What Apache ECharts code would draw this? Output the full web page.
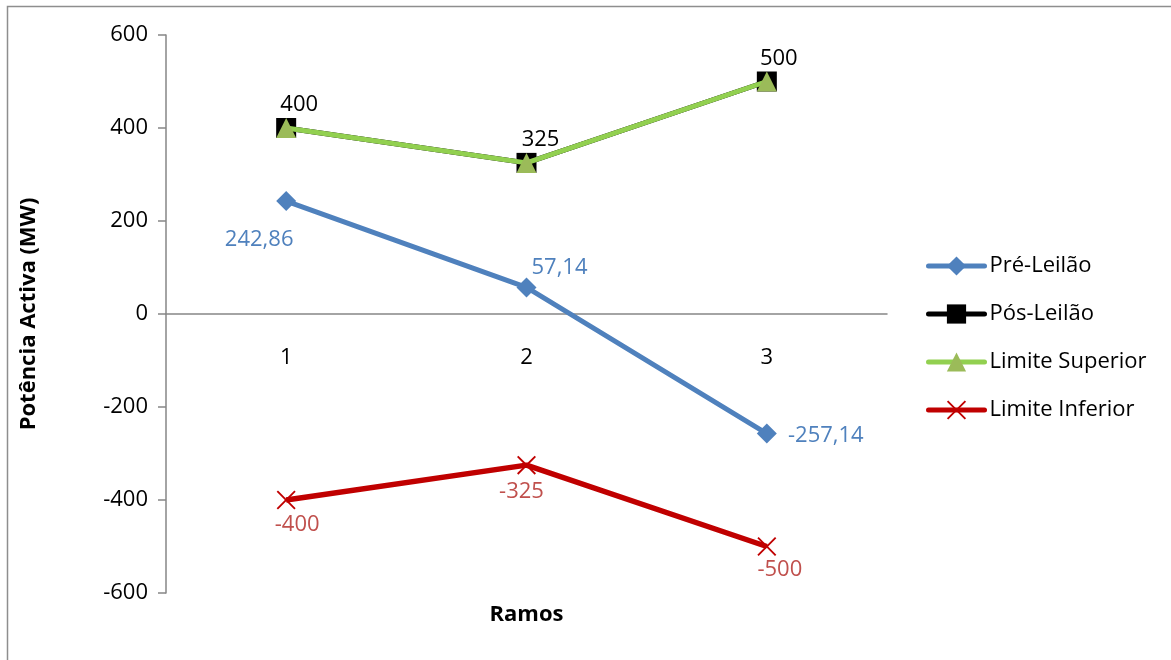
<!DOCTYPE html>
<html>
<head>
<meta charset="utf-8">
<script src="https://cdn.jsdelivr.net/npm/echarts@6/dist/echarts.min.js"></script>
<style>
  html, body { margin: 0; padding: 0; background: #fff; }
  #chart { width: 1171px; height: 660px; }
</style>
</head>
<body>
<div id="chart"></div>
<script>
// Branch flows (MW) before/after the auction and the line limits
const ramos = ['1', '2', '3'];
const preLeilao = [242.86, 57.14, -257.14];
const posLeilao = [400, 325, 500];
const limiteSuperior = [400, 325, 500];
const limiteInferior = [-400, -325, -500];
const yTicks = { min: -600, max: 600, interval: 200 };

const FONT = '"Open Sans", "DejaVu Sans", sans-serif';
const FS = 22;

// Filled "x" outline used as the lower-limit marker
const crossPath = 'path://M0,1.4L1.4,0L10,8.6L18.6,0L20,1.4L11.4,10L20,18.6L18.6,20L10,11.4L1.4,20L0,18.6L8.6,10Z';

function fmt(v) {
  return String(v).replace('.', ',');
}

function labelled(values, offsets, color) {
  return values.map((v, i) => ({
    value: v,
    label: {
      show: true,
      position: 'inside',
      offset: offsets[i],
      color: color,
      fontFamily: FONT,
      fontSize: FS,
      align: 'center',
      verticalAlign: 'middle',
      formatter: () => fmt(v)
    }
  }));
}

const chart = echarts.init(document.getElementById('chart'), null, { renderer: 'canvas' });

chart.setOption({
  animation: false,
  backgroundColor: '#ffffff',
  textStyle: { fontFamily: FONT },
  graphic: [{
    type: 'rect',
    silent: true,
    shape: { x: 7.5, y: 6.5, width: 1200, height: 700 },
    style: { fill: 'none', stroke: '#8e8e8e', lineWidth: 1.5 }
  }],
  grid: { left: 166, right: 284, top: 35, bottom: 67, containLabel: false, outerBoundsMode: 'none' },
  legend: {
    orient: 'vertical',
    left: 921,
    top: 249,
    itemWidth: 56,
    itemHeight: 24,
    itemGap: 24,
    lineStyle: { width: 5, cap: 'round' },
    textStyle: { fontFamily: FONT, fontSize: FS, color: '#000', lineHeight: 24 },
    data: ['Pré-Leilão', 'Pós-Leilão', 'Limite Superior', 'Limite Inferior']
  },
  xAxis: {
    type: 'category',
    data: ramos,
    boundaryGap: true,
    axisLine: { onZero: true, lineStyle: { color: '#868686', width: 1.5 } },
    axisTick: { show: false },
    // category labels sit just under the zero line
    axisLabel: { color: '#000', fontFamily: FONT, fontSize: FS, margin: -246 },
    splitLine: { show: false },
    name: 'Ramos',
    nameLocation: 'middle',
    nameGap: 11,
    nameTextStyle: { color: '#000', fontFamily: FONT, fontSize: FS, fontWeight: 'bold' }
  },
  yAxis: {
    type: 'value',
    min: yTicks.min,
    max: yTicks.max,
    interval: yTicks.interval,
    axisLine: { show: true, onZero: false, lineStyle: { color: '#868686', width: 1.5 } },
    axisTick: { show: true, length: 8, lineStyle: { color: '#868686', width: 1.5 } },
    axisLabel: { color: '#000', fontFamily: FONT, fontSize: FS, margin: 18 },
    splitLine: { show: false },
    name: 'Potência Activa (MW)',
    nameLocation: 'middle',
    nameGap: 126,
    nameTextStyle: { color: '#000', fontFamily: FONT, fontSize: FS, fontWeight: 'bold' }
  },
  series: [
    {
      name: 'Pré-Leilão',
      type: 'line',
      data: labelled(preLeilao, [[-27, 39], [33, -20], [59, 2]], '#4F81BD'),
      symbol: 'diamond',
      symbolSize: 20,
      lineStyle: { color: '#4F81BD', width: 5 },
      itemStyle: { color: '#4F81BD' },
      z: 2
    },
    {
      name: 'Pós-Leilão',
      type: 'line',
      data: labelled(posLeilao, [[13, -23], [14, -23], [12, -23]], '#000000'),
      symbol: 'rect',
      symbolSize: 20,
      lineStyle: { color: '#000000', width: 5 },
      itemStyle: { color: '#000000' },
      z: 3
    },
    {
      name: 'Limite Superior',
      type: 'line',
      data: limiteSuperior,
      symbol: 'triangle',
      symbolSize: 20,
      lineStyle: { color: '#92D050', width: 5 },
      itemStyle: { color: '#9BBB59' },
      z: 4
    },
    {
      name: 'Limite Inferior',
      type: 'line',
      data: labelled(limiteInferior, [[11, 25], [-5, 27], [13, 23]], '#C0504D'),
      symbol: crossPath,
      symbolSize: 19,
      lineStyle: { color: '#C00000', width: 5.5 },
      itemStyle: { color: '#C00000' },
      z: 5
    }
  ]
});
</script>
</body>
</html>
